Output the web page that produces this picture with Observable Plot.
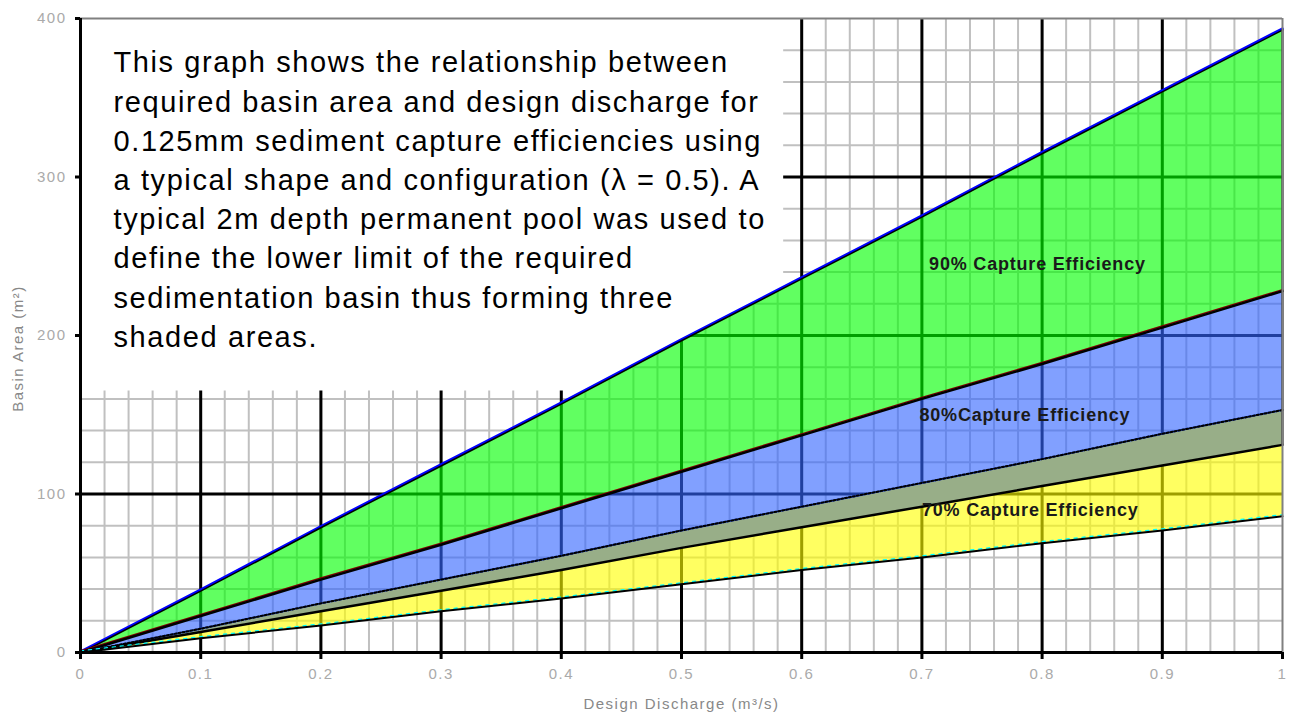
<!DOCTYPE html>
<html><head><meta charset="utf-8">
<script src="https://cdn.jsdelivr.net/npm/d3@7"></script>
<script src="https://cdn.jsdelivr.net/npm/@observablehq/plot@0.6"></script>
<style>
body{margin:0;background:#fff;}
#chart svg g[font-size="29"]{letter-spacing:1.6px;}
#chart svg g[font-size="18"]{letter-spacing:0.8px;}
#chart svg g[font-size="15"]{letter-spacing:1.5px;}
</style></head><body><div id="chart"></div>
<script>
// Design discharge (m³/s)
const discharge = [0, 0.1, 0.2, 0.3, 0.4, 0.5, 0.6, 0.7, 0.8, 0.9, 1.0];
// Basin area boundaries (m²)
const greenTop    = [0, 39, 79, 118, 157, 197, 236, 275, 315, 354, 393];
const greenBase   = [0, 23, 46, 68, 91, 114, 137, 160, 182, 205, 228];
const yellowTop   = [0, 15, 31, 46, 61, 77, 92, 107, 122, 138, 153];
const blueBase    = [0, 13, 26, 39, 52, 66, 79, 92, 105, 118, 131];
const yellowBase  = [0, 9, 17, 26, 34, 43, 52, 60, 69, 77, 86];

const xTicks = [0, 0.1, 0.2, 0.3, 0.4, 0.5, 0.6, 0.7, 0.8, 0.9, 1];
const xTickLabels = ["0", "0.1", "0.2", "0.3", "0.4", "0.5", "0.6", "0.7", "0.8", "0.9", "1"];
const yTicks = [0, 100, 200, 300, 400];
const yTickLabels = ["0", "100", "200", "300", "400"];

const bandNames = ["90% Capture Efficiency", "80%Capture Efficiency", "70% Capture Efficiency"];
const bandLabelX = [0.706, 0.698, 0.700];
const bandLabelY = [245, 150, 90];

const noteText = "This graph shows the relationship between\nrequired basin area and design discharge for\n0.125mm sediment capture efficiencies using\na typical shape and configuration (λ = 0.5). A\ntypical 2m depth permanent pool was used to\ndefine the lower limit of the required\nsedimentation basin thus forming three\nshaded areas.";
const noteBoxRight = 0.585, noteBoxBottom = 165;

const rows = discharge.map((x, i) => ({
  x, gTop: greenTop[i], gBase: greenBase[i], yTop: yellowTop[i], bBase: blueBase[i], yBase: yellowBase[i]
}));
const topAt = d3.scaleLinear(discharge, greenTop);
const boxPts = d3.range(0, noteBoxRight, 0.005).concat([noteBoxRight])
  .map(x => ({x, y1: Math.max(noteBoxBottom, topAt(x)), y2: 400}));

const minorX = d3.range(1, 50).map(i => i * 0.02);
const minorY = d3.range(1, 20).map(i => i * 20);
const majorX = xTicks.slice(1, -1);
const majorY = yTicks.slice(1, -1);
const labels = bandNames.map((t, i) => ({t, x: bandLabelX[i], y: bandLabelY[i]}));

const svg = Plot.plot({
  width: 1289, height: 716,
  marginLeft: 80, marginRight: 7, marginTop: 18, marginBottom: 64,
  style: {fontFamily: "'Liberation Sans', Arial, sans-serif", background: "white"},
  x: {domain: [0, 1]},
  y: {domain: [0, 400]},
  marks: [
    Plot.ruleX(minorX, {stroke: "#c0c0c0", strokeWidth: 2}),
    Plot.ruleY(minorY, {stroke: "#c0c0c0", strokeWidth: 2}),
    Plot.ruleX(majorX, {stroke: "black", strokeWidth: 3}),
    Plot.ruleY(majorY, {stroke: "black", strokeWidth: 3}),
    Plot.areaY(boxPts, {x: "x", y1: "y1", y2: "y2", fill: "white"}),
    // 90% band (green checker)
    Plot.areaY(rows, {x: "x", y1: "gBase", y2: "gTop", fill: "#00ff00", fillOpacity: 0.62}),
    // 80% band (blue checker)
    Plot.areaY(rows, {x: "x", y1: "yTop", y2: "gBase", fill: "#3366ff", fillOpacity: 0.62}),
    // overlap of 80% and 70% bands (blue / yellow checker)
    Plot.areaY(rows, {x: "x", y1: "bBase", y2: "yTop", fill: "#98ae88"}),
    // 70% band (yellow checker)
    Plot.areaY(rows, {x: "x", y1: "yBase", y2: "bBase", fill: "#ffff00", fillOpacity: 0.62}),
    Plot.line(rows, {x: "x", y: "gTop", stroke: "#0000ff", strokeWidth: 2.5, dy: -1}),
    Plot.line(rows, {x: "x", y: "gTop", stroke: "black", strokeWidth: 1.5, dy: 0.5}),
    Plot.line(rows, {x: "x", y: "gBase", stroke: "#800000", strokeWidth: 1.5, dy: -1.5}),
    Plot.line(rows, {x: "x", y: "gBase", stroke: "black", strokeWidth: 2.5}),
    Plot.line(rows, {x: "x", y: "yTop", stroke: "#2244cc", strokeWidth: 2}),
    Plot.line(rows, {x: "x", y: "yTop", stroke: "black", strokeWidth: 2, strokeDasharray: "2,2"}),
    Plot.line(rows, {x: "x", y: "bBase", stroke: "black", strokeWidth: 2.5}),
    Plot.line(rows, {x: "x", y: "yBase", stroke: "#00ffff", strokeWidth: 1.5, dy: -1.5, strokeDasharray: "3,5"}),
    Plot.line(rows, {x: "x", y: "yBase", stroke: "black", strokeWidth: 2}),
    Plot.ruleX([1], {y1: blueBase[blueBase.length - 1], y2: greenTop[greenTop.length - 1], stroke: "black", strokeWidth: 2}),
    Plot.ruleY([400], {stroke: "#808080", strokeWidth: 2}),
    Plot.ruleX([1], {y1: 0, y2: 400, stroke: "#808080", strokeWidth: 2}),
    Plot.ruleX([0], {y1: 0, y2: 400, stroke: "black", strokeWidth: 3}),
    Plot.ruleY([0], {x1: 0, x2: 1, stroke: "black", strokeWidth: 3}),
    Plot.axisX(xTicks, {tickSize: 7, tickPadding: 9, tickFormat: d => xTickLabels[xTicks.indexOf(d)],
      stroke: "black", strokeWidth: 3, color: "#aaa", fill: "#aaa", fontSize: 15, label: null}),
    Plot.axisY(yTicks, {tickSize: 5, tickPadding: 9, tickFormat: d => yTickLabels[yTicks.indexOf(d)],
      stroke: "black", strokeWidth: 3, color: "#aaa", fill: "#aaa", fontSize: 15, label: null}),
    Plot.text(["Design Discharge (m³/s)"], {text: d => d, frameAnchor: "bottom", dy: 56, textAnchor: "middle", fontSize: 15, fill: "#888"}),
    Plot.text(["Basin Area (m²)"], {text: d => d, frameAnchor: "left", dx: -62, dy: 13, rotate: -90, textAnchor: "middle", fontSize: 15, fill: "#888"}),
    Plot.text([noteText], {text: d => d, frameAnchor: "top-left", dx: 33, dy: 26, textAnchor: "start",
      lineAnchor: "top", lineHeight: 39.2 / 29, fontSize: 29, fill: "black"}),
    Plot.text(labels, {x: "x", y: "y", text: "t", textAnchor: "start", fontSize: 18, fontWeight: "bold", fill: "#1a1a1a"})
  ]
});
document.getElementById("chart").append(svg);
</script>
</body></html>
